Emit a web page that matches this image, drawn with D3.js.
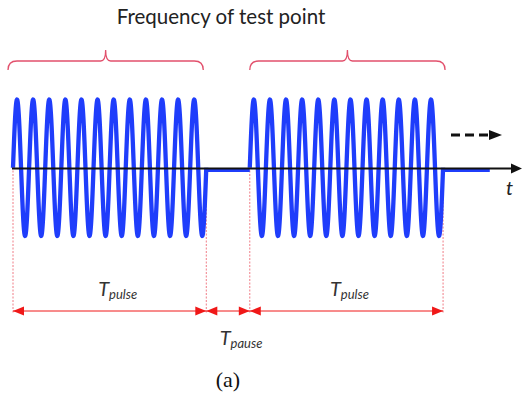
<!DOCTYPE html>
<html>
<head>
<meta charset="utf-8">
<script src="https://cdn.jsdelivr.net/npm/d3@7"></script>
<style>
  html, body { margin: 0; padding: 0; background: #fff; }
  svg { display: block; }
</style>
</head>
<body>
<svg id="chart" width="524" height="397"></svg>
<script>
// Pulsed excitation: bursts of the test frequency separated by pauses.
// Time is measured in cycles of the test frequency.
const phaseNames   = ["pulse", "pause", "pulse", "pause"];
const phaseLengths = [12, 2.7, 12, 2.9];
const cyclesPerPulse = 12;
const timeAxisEnd = 31.6;
const amplitude = 1;

const titleText = "Frequency of test point";
const axisLabel = "t";
const dimMain = ["T", "T", "T"];
const dimSub  = ["pulse", "pause", "pulse"];
const captionText = "(a)";

const svg = d3.select("#chart");

const x = d3.scaleLinear().domain([0, timeAxisEnd]).range([13, 522]);
const y = d3.scaleLinear().domain([-amplitude, amplitude]).range([236, 99.5]);
const axisY = 168.5;

// phase boundaries
const bounds = [0];
phaseLengths.forEach(d => bounds.push(bounds[bounds.length - 1] + d));
const phases = phaseNames.map((name, i) => ({ name, t0: bounds[i], t1: bounds[i + 1] }));

const blue = "#1f3dfb";
const red = "#f01818";
const pink = "#f07c86";
const braceColor = "#e2506c";
const textColor = "#333";

// signal samples
const signal = [];
phases.forEach(p => {
  if (p.name === "pulse") {
    const n = cyclesPerPulse * 48;
    for (let k = 0; k <= n; k++) {
      const t = p.t0 + (p.t1 - p.t0) * k / n;
      signal.push({ t, v: amplitude * Math.sin(2 * Math.PI * cyclesPerPulse * k / n), flat: false });
    }
  } else {
    signal.push({ t: p.t0, v: 0, flat: true });
    signal.push({ t: p.t1, v: 0, flat: true });
  }
});

// dotted extension lines
const dimY = 311;
const pulseEdges = [bounds[0], bounds[1], bounds[2], bounds[3]];
svg.append("g").selectAll("line").data(pulseEdges).join("line")
  .attr("x1", d => x(d)).attr("x2", d => x(d))
  .attr("y1", axisY + 2).attr("y2", dimY + 3)
  .attr("stroke", pink).attr("stroke-width", 1)
  .attr("stroke-dasharray", "2,1.5");

// waveform
const line = d3.line()
  .x(d => x(d.t))
  .y(d => d.flat ? axisY + 2 : y(d.v))
  .curve(d3.curveLinear);

// pulses drawn separately so flat parts sit just below the axis
phases.forEach(p => {
  const pts = signal.filter(s => s.t >= p.t0 - 1e-9 && s.t <= p.t1 + 1e-9 &&
    (p.name === "pulse" ? !s.flat : s.flat));
  svg.append("path")
    .datum(pts)
    .attr("d", line)
    .attr("fill", "none")
    .attr("stroke", blue)
    .attr("stroke-width", p.name === "pulse" ? 4.3 : 3)
    .attr("stroke-linejoin", "round");
});
// join the end of each pulse to the flat line
[bounds[1], bounds[3]].forEach(t => {
  svg.append("line").attr("x1", x(t)).attr("x2", x(t))
    .attr("y1", axisY).attr("y2", axisY + 3)
    .attr("stroke", blue).attr("stroke-width", 3);
});

// time axis with arrow
svg.append("line")
  .attr("x1", x(0) - 1).attr("x2", x(timeAxisEnd) - 8)
  .attr("y1", axisY).attr("y2", axisY)
  .attr("stroke", "#111").attr("stroke-width", 1.8);
svg.append("path")
  .attr("d", `M${x(timeAxisEnd)},${axisY} L${x(timeAxisEnd) - 11},${axisY - 5} L${x(timeAxisEnd) - 11},${axisY + 5} Z`)
  .attr("fill", "#111");
svg.append("text")
  .attr("x", 506).attr("y", 195)
  .attr("font-family", "Lato, 'Open Sans', sans-serif")
  .attr("font-style", "italic")
  .attr("font-size", 20)
  .attr("fill", "#222")
  .text(axisLabel);

// dashed continuation arrow
const dashY = 135;
svg.append("line")
  .attr("x1", 451).attr("x2", 490)
  .attr("y1", dashY).attr("y2", dashY)
  .attr("stroke", "#111").attr("stroke-width", 3.2)
  .attr("stroke-dasharray", "9,5");
svg.append("path")
  .attr("d", `M502,${dashY} L489,${dashY - 5} L489,${dashY + 5} Z`)
  .attr("fill", "#111");

// braces above the pulses
function bracePath(x0, x1, yl) {
  const xm = (x0 + x1) / 2;
  return `M${x0},${yl + 9} Q${x0},${yl} ${x0 + 9},${yl} L${xm - 5},${yl} ` +
         `Q${xm},${yl} ${xm},${yl - 11} Q${xm},${yl} ${xm + 5},${yl} ` +
         `L${x1 - 9},${yl} Q${x1},${yl} ${x1},${yl + 9}`;
}
phases.filter(p => p.name === "pulse").forEach((p, i) => {
  const shift = i === 0 ? -5 : 0;
  svg.append("path")
    .attr("d", bracePath(x(p.t0) + shift, x(p.t1) + shift + 2, 61))
    .attr("fill", "none")
    .attr("stroke", braceColor)
    .attr("stroke-width", 1.3);
});

// title
svg.append("text")
  .attr("x", 221).attr("y", 24)
  .attr("text-anchor", "middle")
  .attr("font-family", "Lato, 'Open Sans', sans-serif")
  .attr("font-size", 20.5)
  .attr("fill", "#222")
  .text(titleText);

// dimension arrows
const dimGroup = svg.append("g");
function arrowHead(tipX, dir) {
  const len = 11, half = 4.5;
  dimGroup.append("path")
    .attr("d", `M${tipX},${dimY} L${tipX - dir * len},${dimY - half} L${tipX - dir * len},${dimY + half} Z`)
    .attr("fill", red);
}
phases.slice(0, 3).forEach(p => {
  const a = x(p.t0), b = x(p.t1);
  dimGroup.append("line")
    .attr("x1", a).attr("x2", b).attr("y1", dimY).attr("y2", dimY)
    .attr("stroke", red).attr("stroke-width", 1);
  arrowHead(a, -1);
  arrowHead(b, 1);
});

// dimension labels
const labelFont = "Lato, 'Open Sans', sans-serif";
const labelPos = phases.slice(0, 3).map((p, i) => {
  const cx = (x(p.t0) + x(p.t1)) / 2;
  if (p.name === "pause") return { x: cx + 13, y: 345 };
  return { x: cx + (i === 0 ? 8 : 3), y: 296 };
});
labelPos.forEach((pos, i) => {
  const t = svg.append("text")
    .attr("x", pos.x).attr("y", pos.y)
    .attr("text-anchor", "middle")
    .attr("font-family", labelFont)
    .attr("font-style", "italic")
    .attr("fill", textColor);
  t.append("tspan").attr("font-size", 20).text(dimMain[i]);
  t.append("tspan").attr("font-size", 13).attr("dy", 3).text(dimSub[i]);
});

// caption
svg.append("text")
  .attr("x", 228).attr("y", 387)
  .attr("text-anchor", "middle")
  .attr("font-family", "'Liberation Serif', 'Times New Roman', serif")
  .attr("font-size", 22)
  .attr("fill", "#111")
  .text(captionText);
</script>
</body>
</html>
